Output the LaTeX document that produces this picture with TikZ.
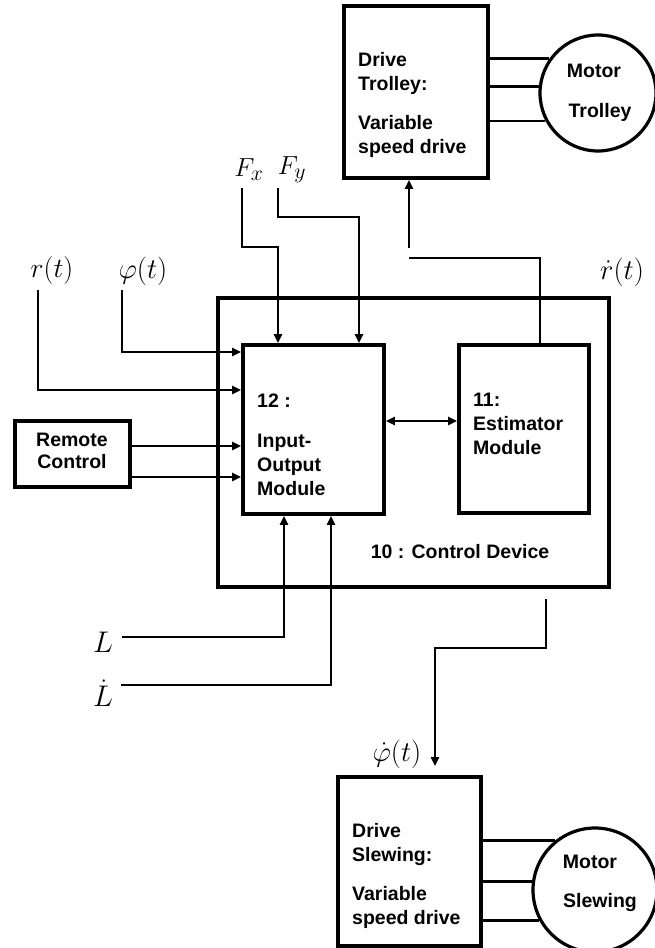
\documentclass[tikz,border=0pt]{standalone}
\usepackage[no-math]{fontspec}
\newfontfamily\arialf{Liberation Sans}
\usetikzlibrary{arrows.meta}
\newcommand{\mlab}[2]{\scalebox{#1}{$#2$}}
\begin{document}
\begin{tikzpicture}[x=1pt,y=-1pt,
  box/.style={draw, line width=3.8pt, inner sep=0pt},
  motor/.style={draw, circle, line width=3.2pt, inner sep=0pt},
  conn/.style={line width=2.7pt},
  wire/.style={line width=2.8pt},
  arr/.style={-{Triangle[length=9pt,width=8pt]}},
  dbl/.style={{Triangle[length=9pt,width=8pt]}-{Triangle[length=9pt,width=8pt]}},
  txt/.style={font=\arialf\bfseries\fontsize{19.5}{24}\selectfont, align=left, inner sep=0pt, anchor=north west},
  ctxt/.style={font=\arialf\bfseries\fontsize{19.5}{22}\selectfont, align=center, inner sep=0pt},
  lbl/.style={font=\fontsize{24.88}{30}\selectfont, inner sep=0pt}]
\useasboundingbox (0,0) rectangle (654,948);

% boxes
\node[box, minimum width=144pt, minimum height=172pt] (trolley) at (416,92) {};
\node[box, minimum width=391pt, minimum height=289pt] (ctrl) at (413.5,442.5) {};
\node[box, minimum width=141pt, minimum height=169pt] (io) at (313.5,429.5) {};
\node[box, minimum width=130pt, minimum height=168pt] (est) at (524,429) {};
\node[box, minimum width=115pt, minimum height=66pt] (remote) at (72.5,454) {};
\node[box, minimum width=143pt, minimum height=169pt] (slew) at (409.5,861.5) {};
\node[motor, minimum size=116pt] (motorT) at (598,93) {};
\node[motor, minimum size=124pt] (motorS) at (595,890) {};

% texts
\node[txt] (ttrolley) at (358,52) {Drive\\Trolley:\\[15pt]Variable\\speed drive};
\node[txt] (tslew) at (352,823) {Drive\\Slewing:\\[15pt]Variable\\speed drive};
\node[txt] (test) at (473,393) {11:\\Estimator\\Module};
\node[txt] (tio) at (257,394) {12 :\\[16pt]Input-\\Output\\Module};
\node[ctxt] (tremote) at (72,451) {Remote\\Control};
\node[ctxt, anchor=base] (tctrl) at (460,558) {10 : Control Device};
\node[ctxt, anchor=base] (tmt1) at (594,77) {Motor};
\node[ctxt, anchor=base] (tmt2) at (600,117) {Trolley};
\node[ctxt, anchor=base] (tms1) at (590,868) {Motor};
\node[ctxt, anchor=base] (tms2) at (600,907) {Slewing};

% math labels
\node[lbl] (lfx) at (249,170) {\mlab{1.05}{F_x}};
\node[lbl] (lfy) at (292,170) {\mlab{1.05}{F_y}};
\node[lbl] (lr) at (52,271) {\mlab{1.12}{r(t)}};
\node[lbl] (lphi) at (143,271) {\mlab{1.15}{\varphi(t)}};
\node[lbl] (lrdot) at (622,272) {\mlab{1.15}{\dot r(t)}};
\node[lbl] (lphidot) at (397,754) {\mlab{1.15}{\dot\varphi(t)}};
\node[lbl] (lL) at (103,642) {\mlab{1.2}{L}};
\node[lbl] (lLdot) at (103,693) {\mlab{1.2}{\dot L}};

% wires to motors
\foreach \a in {145,174,208} \draw[wire] (trolley.east |- motorT.\a) -- (motorT.\a);
\foreach \a in {129,172,209} \draw[wire] (slew.east |- motorS.\a) -- (motorS.\a);

% Fx, Fy
\coordinate (fxs) at (242,188);
\coordinate (fxb) at (278,247);
\draw[conn,arr] (fxs) |- (fxb) -- (fxb |- io.north);
\coordinate (fys) at (278,188);
\coordinate (fyb) at (359,217);
\draw[conn,arr] (fys) |- (fyb) -- (fyb |- io.north);

% r(t), phi(t)
\coordinate (rs) at (38,290);
\coordinate (rb) at (38,390);
\draw[conn,arr] (rs) -- (rb) -- (rb -| io.west);
\coordinate (ps) at (122,290);
\coordinate (pb) at (122,352);
\draw[conn,arr] (ps) -- (pb) -- (pb -| io.west);

% remote
\draw[conn,arr] (remote.east |- 0,446) -- (io.west |- 0,446);
\draw[conn,arr] (remote.east |- 0,477) -- (io.west |- 0,477);

% io <-> estimator
\draw[conn,dbl] (io.east |- 0,421) -- (est.west |- 0,421);

% estimator -> trolley
\coordinate (eb) at (540,258);
\coordinate (tb) at (409,258);
\draw[conn] (eb |- est.north) -- (eb) -- (tb);
\coordinate (ta) at (409,248);
\draw[conn,arr] (ta) -- (ta |- trolley.south);

% L, Ldot
\coordinate (ls) at (122,637);
\coordinate (lb) at (284,637);
\draw[conn,arr] (ls) -- (lb) -- (lb |- io.south);
\coordinate (lds) at (121,685);
\coordinate (ldb) at (331,685);
\draw[conn,arr] (lds) -- (ldb) -- (ldb |- io.south);

% slewing output
\coordinate (ss) at (546,599);
\coordinate (sb) at (435,648);
\draw[conn,arr,shorten >=9pt] (ss) |- (sb) -- (sb |- slew.north);
\end{tikzpicture}
\end{document}
